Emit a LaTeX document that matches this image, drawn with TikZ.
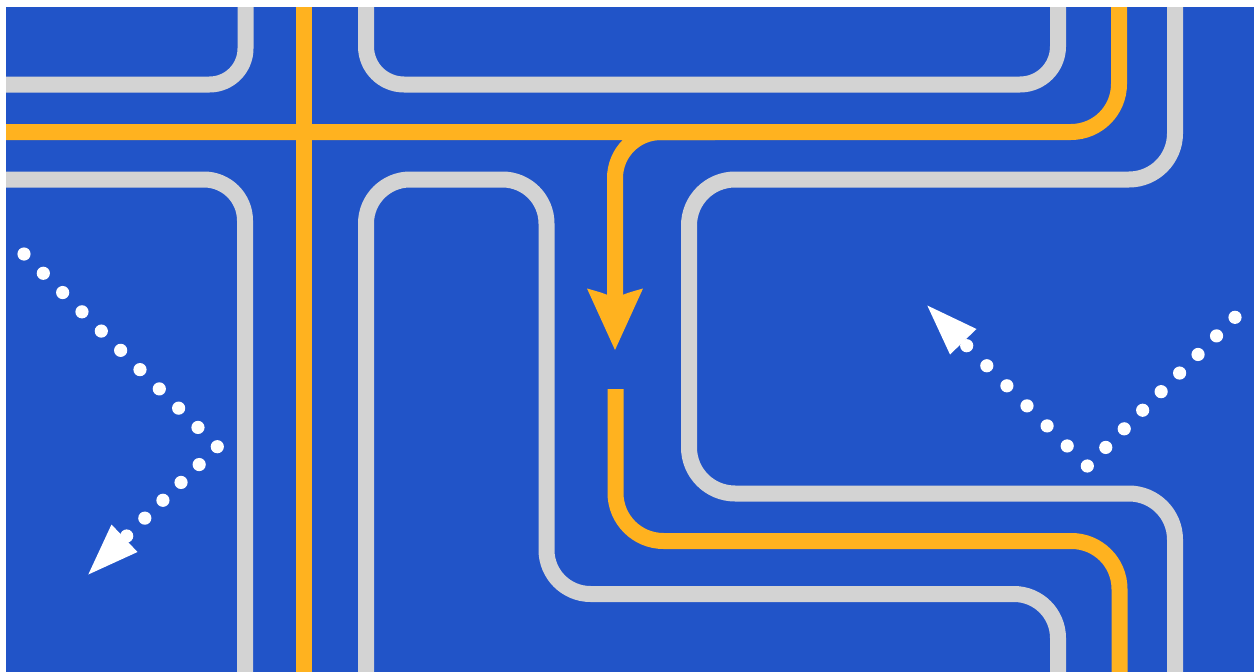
\documentclass[tikz,border=0pt]{standalone}
\usetikzlibrary{calc}
\definecolor{bgblue}{RGB}{33,84,200}
\definecolor{road}{RGB}{211,211,211}
\definecolor{route}{RGB}{255,178,31}
\tikzset{
  grayroad/.style={draw=road,line width=16pt,line cap=butt,line join=round},
  orangeroute/.style={draw=route,line width=16pt,line cap=butt,line join=round},
  dotfill/.style={fill=white},
  headfill/.style={fill=white},
}
\begin{document}
\begin{tikzpicture}[x=1pt,y=-1pt]
\useasboundingbox (0,0) rectangle (1254,672);
\fill[white] (0,0) rectangle (1254,672);
\fill[bgblue] (6,7) rectangle (1254,672);
\begin{scope}
\clip (6,7) rectangle (1254,672);
% gray roads
\coordinate (g1a) at (0,84.5); \coordinate (g1b) at (245.5,84.5); \coordinate (g1c) at (245.5,0);
\draw[grayroad,rounded corners=36pt] (g1a) -- (g1b) -- (g1c);
\coordinate (g2a) at (0,179.5); \coordinate (g2b) at (245,179.5); \coordinate (g2c) at (245,680);
\draw[grayroad,rounded corners=41pt] (g2a) -- (g2b) -- (g2c);
\coordinate (g3a) at (366,0); \coordinate (g3b) at (366,84.5); \coordinate (g3c) at (1058,84.5); \coordinate (g3d) at (1058,0);
\draw[grayroad,rounded corners=38pt] (g3a) -- (g3b) -- (g3c) -- (g3d);
\coordinate (g4a) at (1175,0); \coordinate (g4b) at (1175,179.5); \coordinate (g4c) at (689,179.5);
\coordinate (g4d) at (689,493.5); \coordinate (g4e) at (1175,493.5); \coordinate (g4f) at (1175,680);
\draw[grayroad,rounded corners=46pt] (g4a) -- (g4b) -- (g4c) -- (g4d) -- (g4e) -- (g4f);
\coordinate (g5a) at (366,680); \coordinate (g5b) at (366,179.5); \coordinate (g5c) at (546.5,179.5);
\coordinate (g5d) at (546.5,594); \coordinate (g5e) at (1058,594); \coordinate (g5f) at (1058,680);
\draw[grayroad,rounded corners=44pt] (g5a) -- (g5b) -- (g5c) -- (g5d) -- (g5e) -- (g5f);
% orange routes
\coordinate (o1a) at (304,0); \coordinate (o1b) at (304,680);
\draw[orangeroute] (o1a) -- (o1b);
\coordinate (o2a) at (0,132); \coordinate (o2b) at (1119,132); \coordinate (o2c) at (1119,0);
\draw[orangeroute,rounded corners=48pt] (o2a) -- (o2b) -- (o2c);
\coordinate (o3a) at (715,132); \coordinate (o3b) at (615,132); \coordinate (o3c) at (615,300);
\draw[orangeroute,rounded corners=46pt] (o3a) -- (o3b) -- (o3c);
\coordinate (o4a) at (615.5,389); \coordinate (o4b) at (615.5,541); \coordinate (o4c) at (1119.5,541); \coordinate (o4d) at (1119.5,680);
\draw[orangeroute,rounded corners=48pt] (o4a) -- (o4b) -- (o4c) -- (o4d);
% orange arrowhead
\coordinate (ahTip) at (615,350); \coordinate (ahL) at (587,288.5); \coordinate (ahR) at (643,288.5);
\fill[route] (ahTip) -- (ahL) .. controls (603,293) .. (615,298) .. controls (627,293) .. (ahR) -- cycle;
% left dotted arrow
\coordinate (L1) at (24,254); \coordinate (L2) at (217.3,446.7); \coordinate (L3) at (126.7,536);
\foreach \i in {0,...,10} \fill[dotfill] ($(L1)!\i/10!(L2)$) circle[radius=6.6];
\foreach \i in {1,...,5} \fill[dotfill] ($(L2)!\i/5!(L3)$) circle[radius=6.6];
\coordinate (Ltip) at (88.3,574.5); \coordinate (Lb1) at (111.5,524.5); \coordinate (Lb2) at (137.5,552);
\fill[headfill] (Ltip) -- (Lb1) -- (Lb2) -- cycle;
% right dotted arrow
\coordinate (R1) at (1235,317.3); \coordinate (R2) at (1087.3,466); \coordinate (R3) at (966.7,345.7);
\foreach \i in {0,...,8} \fill[dotfill] ($(R1)!\i/8!(R2)$) circle[radius=6.6];
\foreach \i in {1,...,6} \fill[dotfill] ($(R2)!\i/6!(R3)$) circle[radius=6.6];
\coordinate (Rtip) at (927.3,305.5); \coordinate (Rb1) at (950,354.5); \coordinate (Rb2) at (976.5,329);
\fill[headfill] (Rtip) -- (Rb1) -- (Rb2) -- cycle;
\end{scope}
\end{tikzpicture}
\end{document}
